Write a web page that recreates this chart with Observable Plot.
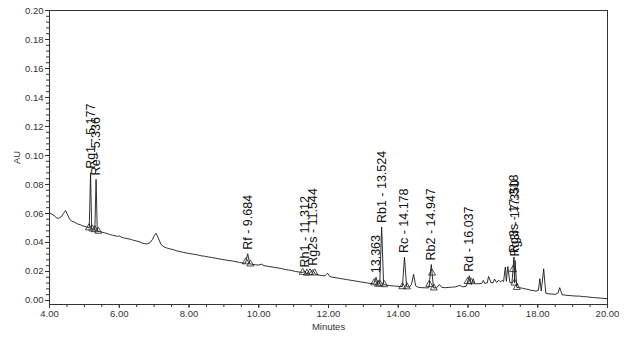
<!DOCTYPE html>
<html>
<head>
<meta charset="utf-8">
<script src="https://cdn.jsdelivr.net/npm/d3@7"></script>
<script src="https://cdn.jsdelivr.net/npm/@observablehq/plot@0.6"></script>
<style>
  html, body { margin: 0; padding: 0; background: #fff; }
  #chart svg { display: block; }
</style>
</head>
<body>
<div id="chart"></div>
<script>
// Chromatogram trace: retention time (minutes) and absorbance (AU)
const traceTime = [
  4.00,4.05,4.10,4.15,4.20,4.25,4.30,4.35,4.40,4.46,4.52,4.58,4.65,4.72,4.80,4.88,4.95,5.02,5.10,5.14,
  5.177,5.21,5.26,5.30,5.336,5.37,5.42,5.50,5.58,5.65,5.72,5.80,5.88,5.95,6.00,6.05,6.12,6.20,6.28,6.35,
  6.42,6.50,6.58,6.65,6.72,6.80,6.88,6.95,7.02,7.06,7.12,7.20,7.28,7.36,7.45,7.55,7.65,7.75,7.85,7.95,
  8.05,8.15,8.25,8.35,8.45,8.55,8.65,8.75,8.85,8.95,9.05,9.15,9.25,9.35,9.45,9.55,9.62,9.684,9.74,9.80,
  9.90,10.00,10.08,10.15,10.25,10.35,10.45,10.55,10.65,10.75,10.85,10.95,11.05,11.15,11.25,11.312,11.36,11.45,11.544,11.62,
  11.70,11.80,11.90,11.97,12.04,12.12,12.22,12.32,12.42,12.52,12.62,12.72,12.82,12.92,13.02,13.12,13.22,13.30,13.363,13.42,
  13.47,13.524,13.58,13.65,13.75,13.85,13.95,14.05,14.12,14.178,14.24,14.32,14.38,14.44,14.50,14.58,14.68,14.78,14.88,14.947,
  15.01,15.10,15.18,15.25,15.35,15.45,15.55,15.65,15.76,15.85,15.95,16.037,16.10,16.15,16.20,16.30,16.40,16.44,16.48,16.55,
  16.59,16.66,16.72,16.76,16.82,16.88,16.93,16.98,17.02,17.07,17.10,17.14,17.20,17.26,17.318,17.335,17.350,17.40,17.48,17.56,
  17.64,17.72,17.80,17.88,17.95,18.02,18.06,18.10,18.17,18.23,18.30,18.40,18.50,18.58,18.63,18.70,18.80,18.90,19.00,19.10,
  19.20,19.30,19.40,19.50,19.60,19.70,19.80,19.90,20.00
];
const traceAU = [
  0.0605,0.0598,0.0590,0.0582,0.0570,0.0566,0.0572,0.0580,0.0600,0.0620,0.0590,0.0560,0.0545,0.0540,0.0528,0.0522,0.0515,0.0510,0.0503,0.0500,
  0.0880,0.0495,0.0490,0.0488,0.0835,0.0480,0.0476,0.0472,0.0466,0.0462,0.0455,0.0450,0.0446,0.0442,0.0445,0.0438,0.0432,0.0428,0.0424,0.0420,
  0.0414,0.0410,0.0404,0.0396,0.0392,0.0390,0.0398,0.0420,0.0455,0.0462,0.0430,0.0385,0.0370,0.0362,0.0356,0.0350,0.0342,0.0336,0.0331,0.0326,
  0.0322,0.0318,0.0314,0.0308,0.0305,0.0300,0.0296,0.0292,0.0287,0.0283,0.0279,0.0275,0.0272,0.0267,0.0262,0.0258,0.0256,0.0322,0.0252,0.0250,
  0.0246,0.0244,0.0250,0.0240,0.0236,0.0232,0.0228,0.0224,0.0220,0.0214,0.0210,0.0206,0.0200,0.0196,0.0193,0.0200,0.0189,0.0186,0.0212,0.0182,
  0.0176,0.0172,0.0170,0.0188,0.0165,0.0160,0.0156,0.0152,0.0148,0.0144,0.0140,0.0136,0.0132,0.0128,0.0124,0.0120,0.0117,0.0115,0.0160,0.0112,
  0.0115,0.0506,0.0110,0.0106,0.0103,0.0100,0.0098,0.0096,0.0095,0.0299,0.0094,0.0092,0.0110,0.0180,0.0100,0.0090,0.0088,0.0087,0.0087,0.0248,
  0.0086,0.0088,0.0110,0.0090,0.0088,0.0090,0.0092,0.0094,0.0104,0.0094,0.0098,0.0170,0.0110,0.0150,0.0115,0.0115,0.0118,0.0138,0.0118,0.0120,
  0.0166,0.0122,0.0122,0.0148,0.0124,0.0140,0.0128,0.0138,0.0130,0.0230,0.0132,0.0234,0.0125,0.0120,0.0300,0.0120,0.0276,0.0090,0.0088,0.0084,
  0.0080,0.0076,0.0070,0.0068,0.0064,0.0070,0.0150,0.0066,0.0218,0.0050,0.0046,0.0044,0.0042,0.0050,0.0088,0.0040,0.0036,0.0034,0.0032,0.0030,
  0.0030,0.0026,0.0026,0.0022,0.0020,0.0018,0.0016,0.0014,0.0012
];

// Labelled peaks
const peakTime = [5.177,5.336,9.684,11.312,11.544,13.363,13.524,14.178,14.947,16.037,17.318,17.350];
const peakLabel = ["Rg1 - 5.177","Re - 5.336","Rf - 9.684","Rh1 - 11.312","Rg2s - 11.544","13.363",
                   "Rb1 - 13.524","Rc - 14.178","Rb2 - 14.947","Rd - 16.037","Rg3s - 17.318","Rg3r - 17.350"];

// Integration baseline markers (peak start / end)
const markerTime = [5.13,5.23,5.30,5.40,9.63,9.76,11.26,11.38,11.47,11.60,13.31,13.42,13.47,13.60,
                    14.12,14.25,14.89,14.97,15.02,15.99,16.08,17.29,17.335,17.40];

// Axis ticks
const xMajor = [4,6,8,10,12,14,16,18,20];
const yMajor = [0,0.02,0.04,0.06,0.08,0.10,0.12,0.14,0.16,0.18,0.20];

const trace = traceTime.map((t, i) => ({t, au: traceAU[i]}));
const auAt = t => {
  const i = d3.bisector(d => d.t).left(trace, t);
  if (i <= 0) return trace[0].au;
  if (i >= trace.length) return trace[trace.length - 1].au;
  const a = trace[i - 1], b = trace[i];
  if (b.t === t) return b.au;
  return a.au + (b.au - a.au) * (t - a.t) / (b.t - a.t);
};
const peaks = peakTime.map((t, i) => ({t, au: auAt(t), label: peakLabel[i]}));
const markers = markerTime.map(t => ({t, au: auAt(t)}));
const xMinor = d3.range(4, 20.001, 0.5);
const yMinor = d3.range(0, 0.2001, 0.004);

const chart = Plot.plot({
  width: 625,
  height: 339,
  marginLeft: 49,
  marginRight: 18,
  marginTop: 10,
  marginBottom: 35,
  style: {fontFamily: "'Liberation Sans', Arial, sans-serif", fontSize: "9.5px", color: "#222", background: "#fff"},
  x: {domain: [4, 20]},
  y: {domain: [-0.0028, 0.20]},
  marks: [
    Plot.frame({stroke: "#333", strokeWidth: 1}),
    Plot.axisX({ticks: xMinor, tickSize: 3, tickFormat: () => "", label: null, stroke: "#333"}),
    Plot.axisX({ticks: xMajor, tickSize: 4, tickPadding: 2, tickFormat: d3.format(".2f"),
                label: "Minutes", labelAnchor: "center", labelArrow: "none", labelOffset: 25, stroke: "#333", fill: "#333"}),
    Plot.axisY({ticks: yMinor, tickSize: 3, tickFormat: () => "", label: null, stroke: "#333"}),
    Plot.axisY({ticks: yMajor, tickSize: 4, tickPadding: 2, tickFormat: d3.format(".2f"),
                label: "AU", labelAnchor: "center", labelArrow: "none", labelOffset: 36, stroke: "#333", fill: "#333"}),
    Plot.line(trace, {x: "t", y: "au", stroke: "#1a1a1a", strokeWidth: 0.9}),
    Plot.dot(markers, {x: "t", y: "au", symbol: "triangle", r: 2.6, stroke: "#222", strokeWidth: 0.8, fill: "none"}),
    Plot.text(peaks, {x: "t", y: "au", text: "label", rotate: -90, textAnchor: "start", dx: 0, dy: -4,
                      fontSize: 12.5, fill: "#111", lineAnchor: "middle"})
  ]
});
document.getElementById("chart").appendChild(chart);
</script>
</body>
</html>
